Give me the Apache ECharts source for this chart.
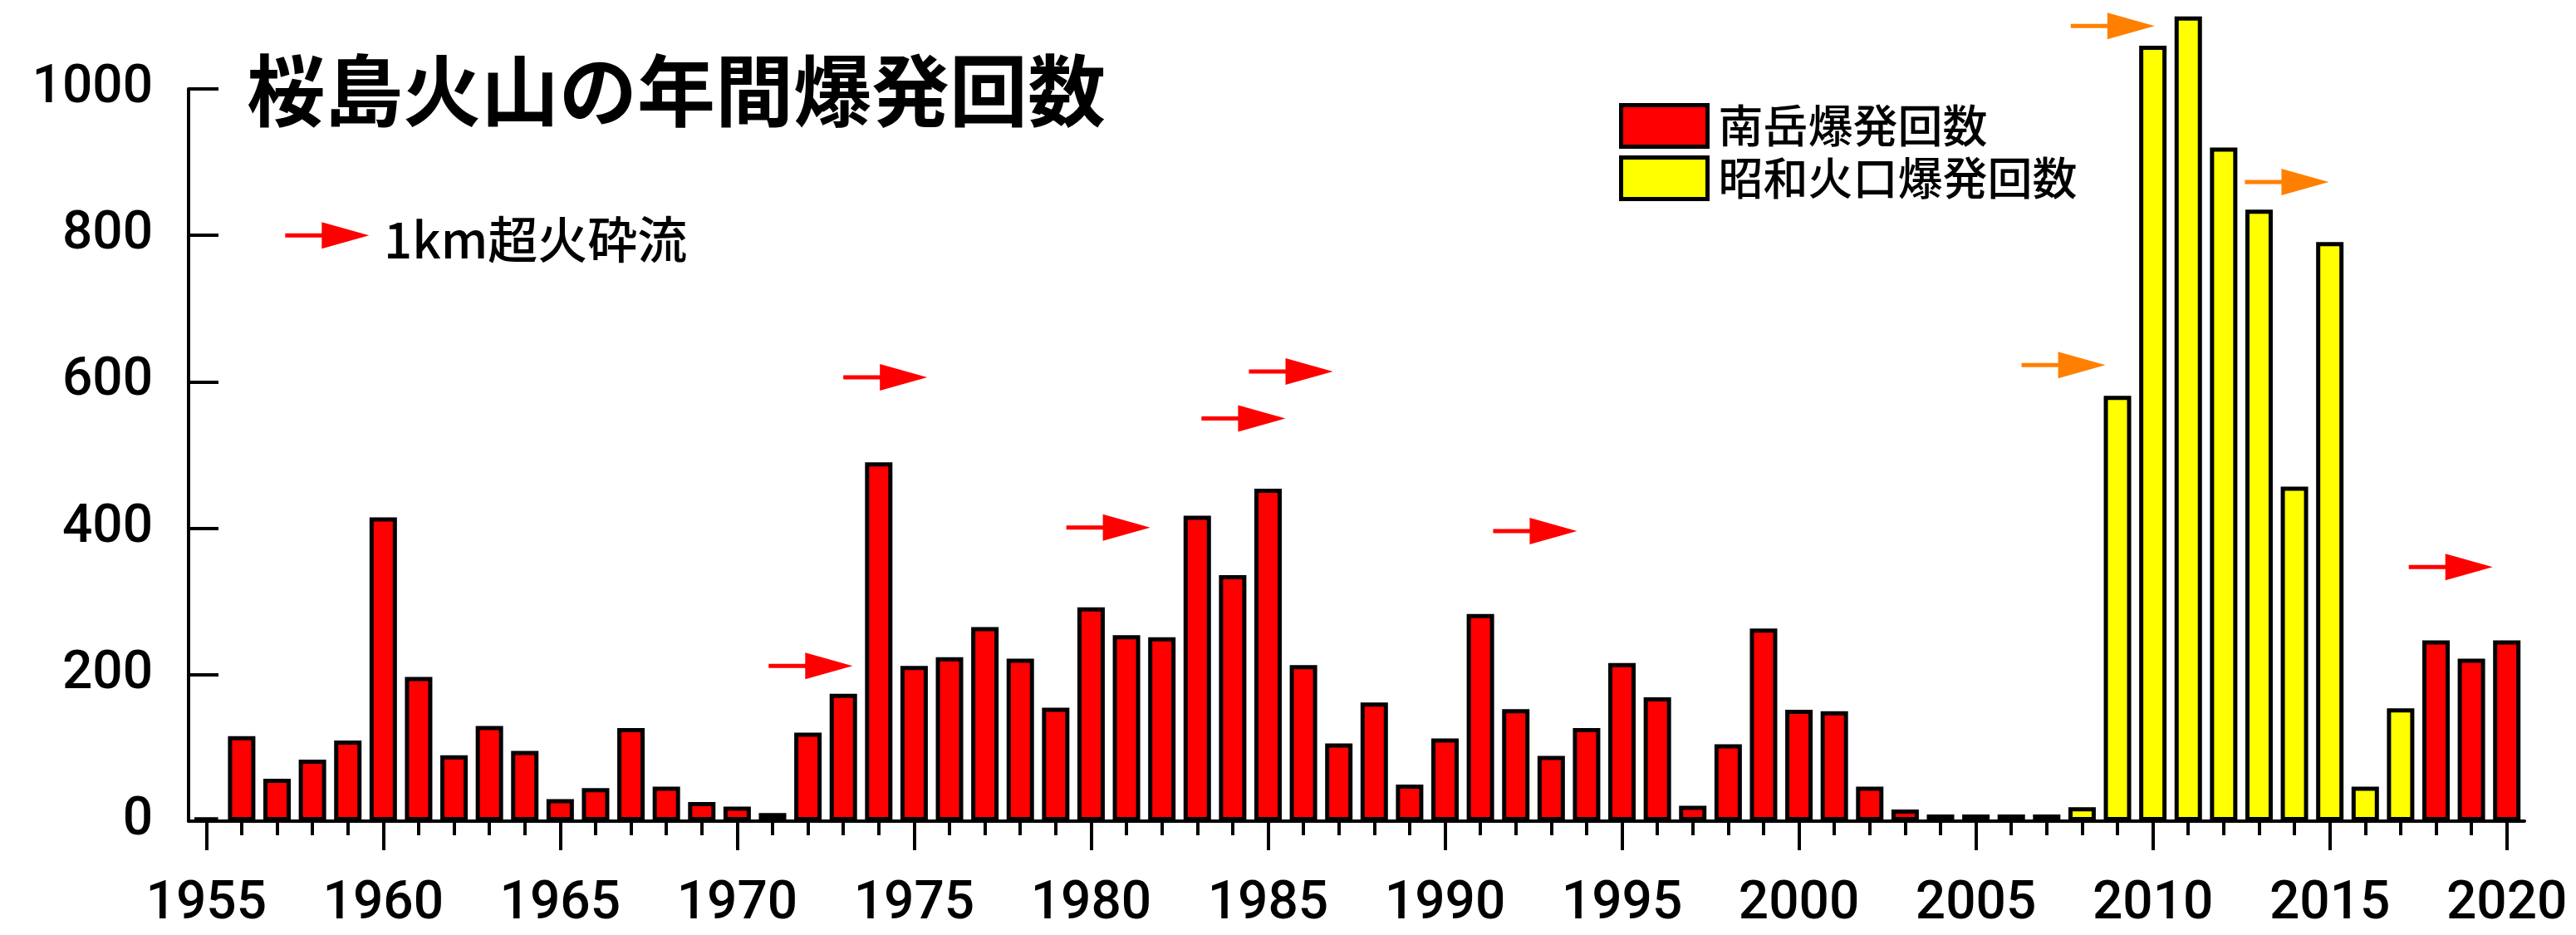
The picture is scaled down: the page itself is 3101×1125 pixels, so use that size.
<!DOCTYPE html>
<html>
<head>
<meta charset="utf-8">
<title>桜島火山の年間爆発回数</title>
<script src="https://cdn.jsdelivr.net/npm/echarts@6/dist/echarts.min.js"></script>
<style>
  html, body { margin: 0; padding: 0; background: #fff; }
  #chart { width: 3101px; height: 1125px; }
</style>
</head>
<body>
<div id="chart"></div>
<script>
// 年
const years = [];
for (let y = 1955; y <= 2020; y++) years.push(String(y));

// 南岳爆発回数 (赤)
const minamidake = [
  5, 116, 58, 84, 110, 415, 197, 90, 130, 96,
  30, 45, 127, 47, 26, 20, 11, 121, 174, 490,
  212, 224, 265, 222, 155, 292, 254, 251, 417, 336,
  454, 213, 106, 162, 50, 113, 283, 153, 89, 127,
  216, 169, 21, 105, 263, 152, 150, 47, 16, 9,
  9, 9, 9, null, null, null, null, null, null, null,
  null, null, null, 247, 222, 247
];

// 昭和火口爆発回数 (黄)
const showa = [
  null, null, null, null, null, null, null, null, null, null,
  null, null, null, null, null, null, null, null, null, null,
  null, null, null, null, null, null, null, null, null, null,
  null, null, null, null, null, null, null, null, null, null,
  null, null, null, null, null, null, null, null, null, null,
  null, null, null, 19, 581, 1059, 1099, 920, 835, 457,
  791, 47, 154, null, null, null
];

// 1km超火砕流の矢印 (矢印の根元の年, 高さ)
const keyArrow = [[1957.23, 800]];
const redArrows = [
  [1970.89, 212], [1973.0, 606], [1979.3, 401], [1983.12, 550],
  [1984.46, 614], [1991.36, 396], [2017.23, 347]
];
const orangeArrows = [[2006.29, 623], [2007.68, 1086], [2012.6, 873]];

const yTicks = [0, 200, 400, 600, 800, 1000];

const numFont = "Roboto, 'Liberation Sans', Arial, sans-serif";
const jpFont = "'Noto Sans CJK JP', sans-serif";

// 矢印を描く
const arrowItem = (color) => (params, api) => {
  const p = api.coord([api.value(0), api.value(1)]);
  return {
    type: 'group',
    children: [
      {
        type: 'line',
        shape: { x1: p[0], y1: p[1], x2: p[0] + 48, y2: p[1] },
        style: { stroke: color, lineWidth: 5 }
      },
      {
        type: 'polygon',
        shape: { points: [[p[0] + 44, p[1] - 16], [p[0] + 101, p[1]], [p[0] + 44, p[1] + 16]] },
        style: { fill: color }
      }
    ]
  };
};

const chart = echarts.init(document.getElementById('chart'));

const option = {
  animation: false,
  backgroundColor: '#fff',
  grid: { left: 227, right: 62, top: 107, bottom: 137, containLabel: false },
  graphic: [
    {
      type: 'text', left: 297, top: 62,
      style: { text: '桜島火山の年間爆発回数', font: 'bold 94px ' + jpFont, fill: '#000' }
    },
    {
      type: 'text', left: 462, top: 258,
      style: { text: '1km超火砕流', font: '500 60px ' + jpFont, fill: '#000' }
    }
  ],
  legend: {
    data: ['南岳爆発回数', '昭和火口爆発回数'],
    orient: 'vertical',
    left: 1944,
    top: 119,
    icon: 'rect',
    itemWidth: 104,
    itemHeight: 50,
    itemGap: 8,
    itemStyle: { borderColor: '#000', borderWidth: 5 },
    textStyle: { fontFamily: jpFont, fontWeight: 500, fontSize: 54, color: '#000', padding: [0, 0, 0, 8] }
  },
  xAxis: [
    {
      type: 'category',
      data: years,
      position: 'bottom',
      axisLine: { show: true, lineStyle: { color: '#000', width: 4 } },
      axisTick: { show: true, alignWithLabel: true, interval: 0, length: 17, lineStyle: { color: '#000', width: 4 } },
      axisLabel: { show: false },
      splitLine: { show: false }
    },
    {
      type: 'category',
      data: years,
      position: 'bottom',
      axisLine: { show: false },
      axisTick: {
        show: true, alignWithLabel: true, length: 35,
        interval: (i) => i % 5 === 0,
        lineStyle: { color: '#000', width: 4 }
      },
      axisLabel: {
        show: true, interval: (i) => i % 5 === 0, margin: 69,
        fontFamily: numFont, fontWeight: 500, fontSize: 64, color: '#000'
      },
      splitLine: { show: false }
    },
    {
      type: 'value', min: 1954.5, max: 2020.5, show: false
    }
  ],
  yAxis: {
    type: 'value',
    min: 0,
    max: 1000,
    interval: 200,
    axisLine: { show: true, lineStyle: { color: '#000', width: 4 } },
    axisTick: { show: true, inside: true, length: 36, lineStyle: { color: '#000', width: 4 } },
    axisLabel: {
      margin: 43, fontFamily: numFont, fontWeight: 500, fontSize: 64, color: '#000',
      formatter: (v) => (yTicks.includes(v) ? String(v) : '')
    },
    splitLine: { show: false }
  },
  series: [
    {
      name: '南岳爆発回数',
      type: 'bar',
      xAxisIndex: 0,
      data: minamidake,
      barWidth: 33,
      barGap: '-100%',
      clip: false,
      itemStyle: { color: '#ff0000', borderColor: '#000', borderWidth: 5 }
    },
    {
      name: '昭和火口爆発回数',
      type: 'bar',
      xAxisIndex: 0,
      data: showa,
      barWidth: 33,
      barGap: '-100%',
      clip: false,
      itemStyle: { color: '#ffff00', borderColor: '#000', borderWidth: 5 }
    },
    {
      name: 'key',
      type: 'custom',
      xAxisIndex: 2,
      data: keyArrow,
      renderItem: arrowItem('#ff0000'),
      z: 5
    },
    {
      name: 'redArrows',
      type: 'custom',
      xAxisIndex: 2,
      data: redArrows,
      renderItem: arrowItem('#ff0000'),
      z: 5
    },
    {
      name: 'orangeArrows',
      type: 'custom',
      xAxisIndex: 2,
      data: orangeArrows,
      renderItem: arrowItem('#ff8000'),
      z: 5
    }
  ]
};

chart.setOption(option);
</script>
</body>
</html>
